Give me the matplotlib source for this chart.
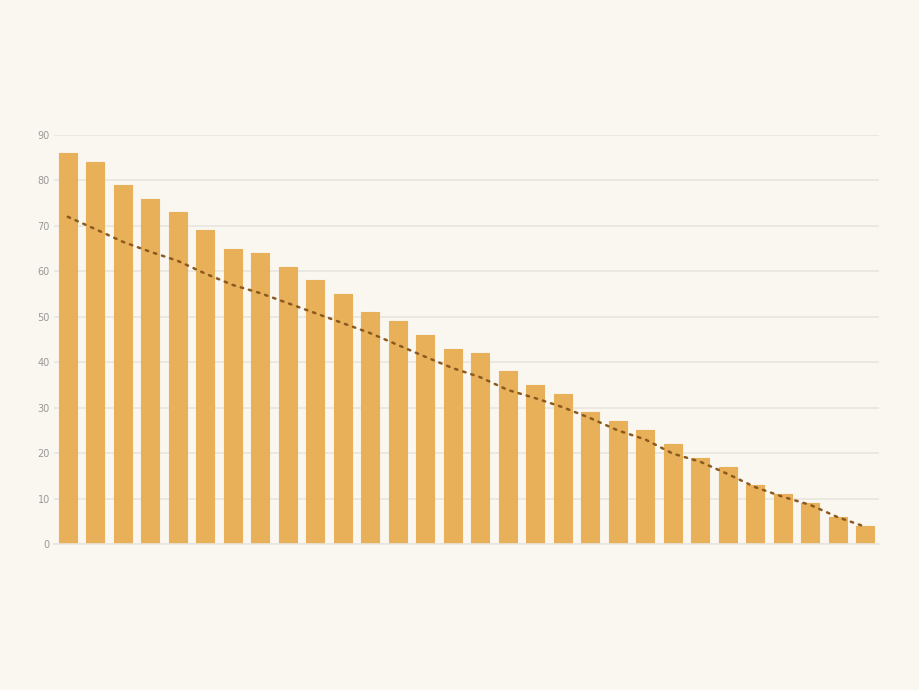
import matplotlib.pyplot as plt
import numpy as np

# bar values
values = [86, 84, 79, 76, 73, 69, 65, 64, 61, 58, 55, 51, 49, 46, 43,
          42, 38, 35, 33, 29, 27, 25, 22, 19, 17, 13, 11, 9, 6, 4]
# dotted trend line
trend = [72, 69.3, 66.5, 64.3, 62.3, 59.5, 57, 55.2, 53, 50.8, 48.6,
         46.4, 43.8, 41.2, 38.7, 36.7, 33.9, 32.1, 30.1, 27.7, 25,
         23, 19.9, 18.1, 15.4, 12.5, 10.4, 8.6, 5.9, 3.8]
y_ticks = [0, 10, 20, 30, 40, 50, 60, 70, 80, 90]

bg = '#faf6f0'
bar_color = '#e9b05a'
line_color = '#8a5a1e'

x = np.arange(len(values))

fig = plt.figure(figsize=(9.2, 6.9), dpi=100, facecolor=bg)
ax = fig.add_axes([0.0587, 0.2116, 0.8967, 0.5928])
ax.set_facecolor(bg)

ax.bar(x, values, width=0.66, color=bar_color, edgecolor=bar_color,
       linewidth=0.8, joinstyle='round', zorder=2)
ax.plot(x, trend, color=line_color, linestyle=(0, (1.0, 2.4)), linewidth=1.8,
        dash_capstyle='round', zorder=3)

ax.set_xlim(-0.5, len(values) - 0.5)
ax.set_ylim(0, 90)
ax.set_yticks(y_ticks)
ax.set_xticks([])
ax.tick_params(axis='y', length=0, pad=3, labelsize=7, labelcolor='#999999')
ax.grid(axis='y', color='#e8e4de', linewidth=1.2, zorder=0)
for s in ['top', 'right', 'left']:
    ax.spines[s].set_visible(False)
ax.spines['bottom'].set_color('#e8e4de')
ax.spines['bottom'].set_linewidth(1.2)

fig.savefig('out.png', dpi=100, facecolor=bg)
